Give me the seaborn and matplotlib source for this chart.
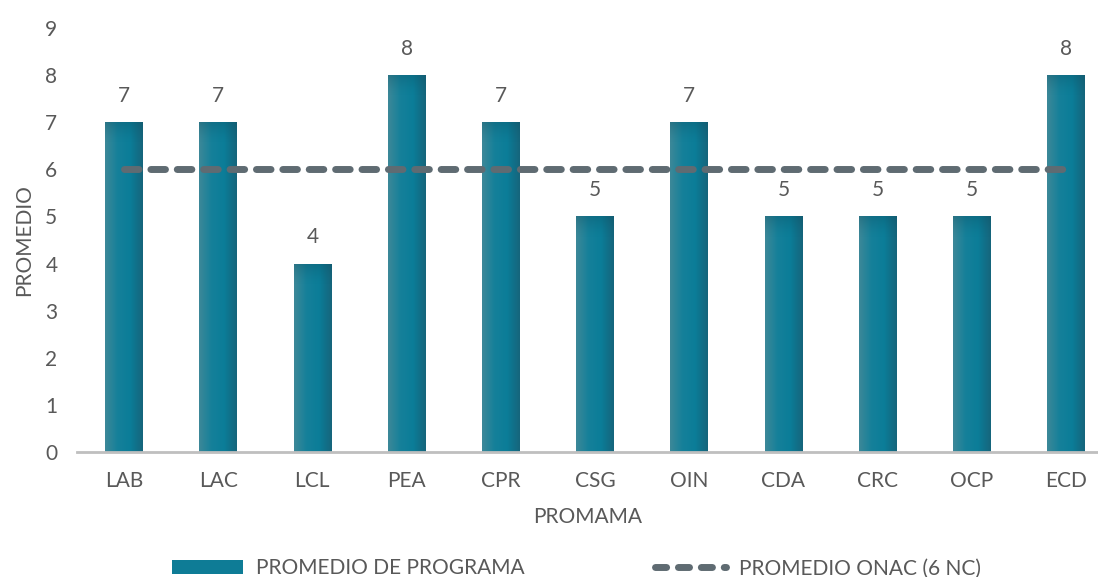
import matplotlib.pyplot as plt
import matplotlib.colors as mcolors
from matplotlib.lines import Line2D
from matplotlib.patches import Patch
import seaborn as sns
import numpy as np
import pandas as pd

# data
programas = ["LAB", "LAC", "LCL", "PEA", "CPR", "CSG", "OIN", "CDA", "CRC", "OCP", "ECD"]
promedio_programa = [7, 7, 4, 8, 7, 5, 7, 5, 5, 5, 8]
promedio_onac = [6] * len(programas)

df = pd.DataFrame({"programa": programas,
                   "promedio": promedio_programa,
                   "onac": promedio_onac})

sns.set_theme(style="white")
plt.rcParams['font.family'] = ['Lato', 'DejaVu Sans']
text_color = "#595959"
line_color = "#5f6b72"

fig = plt.figure(figsize=(10.98, 5.77), dpi=100)
ax = fig.add_axes([0.070, 0.2166, 0.930, 0.735])

sns.barplot(data=df, x="programa", y="promedio", color="#0e7c96",
            width=0.4, ax=ax, saturation=1)

# horizontal gradient on each bar, plus a soft darker band at the top
cmap = mcolors.LinearSegmentedColormap.from_list(
    "teal", ["#3c8898", "#15809a", "#0b7d98", "#16657c"])
grad = np.linspace(0, 1, 64).reshape(1, -1)
for patch in ax.patches:
    x0, y0 = patch.get_x(), patch.get_y()
    w, h = patch.get_width(), patch.get_height()
    im = ax.imshow(grad, cmap=cmap, aspect="auto",
                   extent=[x0, x0 + w, y0, y0 + h], zorder=patch.get_zorder() + 0.1)
    im.set_clip_path(patch)
    top = np.zeros((32, 1, 4))
    top[..., 0:3] = mcolors.to_rgb("#0d4f62")
    top[..., 3] = (np.linspace(0, 0.5, 32) ** 1.5).reshape(-1, 1)
    im2 = ax.imshow(top, aspect="auto", origin="lower",
                    extent=[x0, x0 + w, y0 + h - 0.45, y0 + h],
                    zorder=patch.get_zorder() + 0.2)
    im2.set_clip_path(patch)
    patch.set_edgecolor("none")

# dashed average line
lw = 5
dash = (0, (2.1, 1.7))
sns.lineplot(data=df, x="programa", y="onac", ax=ax, color=line_color,
             linewidth=lw, linestyle=dash, zorder=5)
for ln in ax.lines:
    ln.set_dash_capstyle("round")

# value labels
for i, v in enumerate(promedio_programa):
    ax.annotate(f"{v}", (i, v), textcoords="offset points", xytext=(0, 19),
                ha="center", va="center", fontsize=15, color=text_color,
                annotation_clip=False)

ax.set_ylim(0, 9)
ax.set_xlim(-0.5, 10.34)
ax.set_yticks(range(0, 10))
ax.set_xlabel("PROMAMA", fontsize=15, color=text_color, labelpad=11)
ax.set_ylabel("PROMEDIO", fontsize=15, color=text_color, labelpad=8)
ax.tick_params(axis="both", labelsize=15, colors=text_color, length=0)
ax.tick_params(axis="x", pad=14)
ax.tick_params(axis="y", pad=14)
for side in ["top", "right", "left"]:
    ax.spines[side].set_visible(False)
ax.spines["bottom"].set_color("#bfbfbf")
ax.spines["bottom"].set_linewidth(2)
ax.grid(False)

handles = [Patch(facecolor="#0e7c96", edgecolor="none"),
           Line2D([0], [0], color=line_color, linewidth=lw,
                  linestyle=(0, (1.6, 1.7)), dash_capstyle="round")]
fig.legend(handles, ["PROMEDIO DE PROGRAMA", "PROMEDIO ONAC (6 NC)"],
           loc="lower center", bbox_to_anchor=(0.525, -0.035), ncol=2,
           frameon=False, fontsize=15, labelcolor=text_color,
           handlelength=3.4, handleheight=0.7, columnspacing=6.3, handletextpad=0.6)

fig.savefig("out.png", dpi=100)
